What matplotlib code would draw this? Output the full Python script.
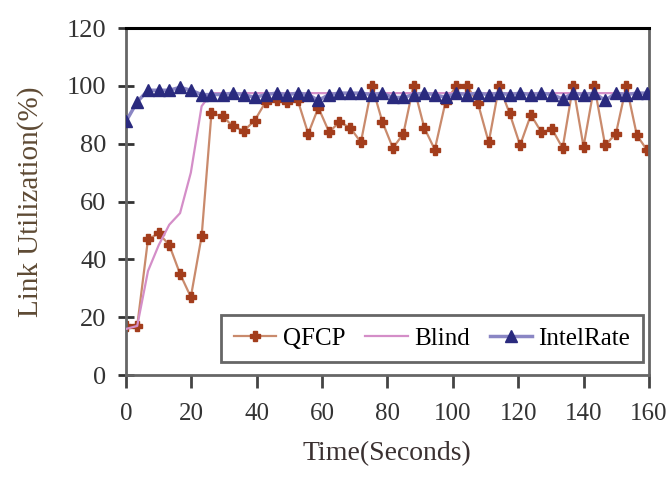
import matplotlib
matplotlib.use("Agg")
import matplotlib.pyplot as plt

# sample times (seconds)
t = [0.2, 3.5, 6.8, 10.1, 13.3, 16.6, 19.9, 23.2, 26.2, 29.6,
     32.8, 36.1, 39.4, 42.8, 46.1, 49.4, 52.6, 55.8, 58.9, 62.2,
     65.3, 68.7, 71.9, 75.3, 78.5, 81.7, 84.9, 88.0, 91.3, 94.5,
     97.8, 101.1, 104.4, 107.7, 111.0, 114.2, 117.4, 120.6, 123.9, 127.1,
     130.4, 133.6, 136.8, 140.0, 143.3, 146.6, 149.9, 153.1, 156.3, 159.3]

qfcp = [17, 17, 47, 49, 45, 35, 27, 48, 90.5, 89.5,
        86, 84.5, 88, 94.5, 95, 94.5, 95, 83.5, 92.5, 84,
        87.5, 85.5, 80.5, 100, 87.5, 78.5, 83.5, 100, 85.5, 78,
        94.5, 100, 100, 94, 80.5, 100, 90.5, 79.5, 90, 84,
        85, 78.5, 100, 79, 100, 79.5, 83.5, 100, 83, 78]

blind = [16, 17, 36, 45, 52, 56, 70, 93, 97.5, 97.5,
         97.5, 97.5, 97.5, 97.5, 97.5, 97.5, 97.5, 97.5, 97.5, 97.5,
         97.5, 97.5, 97.5, 97.5, 97.5, 97.5, 97.5, 97.5, 97.5, 97.5,
         97.5, 97.5, 97.5, 97.5, 97.5, 97.5, 97.5, 97.5, 97.5, 97.5,
         97.5, 97.5, 97.5, 97.5, 97.5, 97.5, 97.5, 97.5, 97.5, 97.5]

intelrate = [88, 94.5, 98.5, 98.5, 98.5, 99.5, 98.5, 97, 97, 97,
             97.5, 97, 96, 97, 97.5, 97, 97.5, 97, 95, 97,
             97.5, 97.5, 97.5, 97, 97.5, 96, 96, 97, 97.5, 97,
             96, 97.5, 97, 97.5, 97, 97.5, 97, 97.5, 97, 97.5,
             97, 95.5, 97.5, 97, 97.5, 95, 97.5, 97, 97.5, 97.5]

xticks = [0, 20, 40, 60, 80, 100, 120, 140, 160]
yticks = [0, 20, 40, 60, 80, 100, 120]

plt.rcParams['font.family'] = ['Liberation Serif', 'DejaVu Serif']

fig = plt.figure(figsize=(6.69, 4.84), dpi=100)
ax = fig.add_axes([0.188, 0.225, 0.782, 0.717])

ax.plot(t, qfcp, color='#c98a6c', lw=1.6, marker='P', ms=7,
        mfc='#a33d1c', mec='#a33d1c', label='QFCP', zorder=2)
ax.plot(t, blind, color='#d48ec8', lw=1.6, label='Blind', zorder=3)
ax.plot(t, intelrate, color='#8a86c4', lw=2.5, marker='^', ms=9,
        mfc='#2a2a7e', mec='#2a2a7e', label='IntelRate', zorder=4)

ax.set_xlim(0, 160)
ax.set_ylim(0, 120)
ax.set_xticks(xticks)
ax.set_yticks(yticks)

for side in ['left', 'bottom', 'right']:
    ax.spines[side].set_color('#666666')
    ax.spines[side].set_linewidth(2)
ax.spines['top'].set_color('black')
ax.spines['top'].set_linewidth(2.2)

ax.tick_params(axis='y', direction='inout', length=12, width=2,
               color='#333333', labelsize=19, labelcolor='#333333', pad=8)
ax.tick_params(axis='x', direction='out', length=9, width=2,
               color='#444444', labelsize=18, labelcolor='#333333', pad=11)

ax.set_xlabel('Time(Seconds)', fontsize=20, color='#3a3030', labelpad=12)
ax.set_ylabel('Link Utilization(%)', fontsize=21, color='#5e4a34', labelpad=16)

leg = ax.legend(loc='lower right', bbox_to_anchor=(0.988, 0.037), borderaxespad=0,
                ncol=3, fontsize=18, handlelength=1.7, handletextpad=0.25,
                columnspacing=0.8, fancybox=False, framealpha=1,
                edgecolor='#666666', borderpad=0.5)
leg.get_frame().set_linewidth(2)

fig.savefig('out.png', dpi=100)
